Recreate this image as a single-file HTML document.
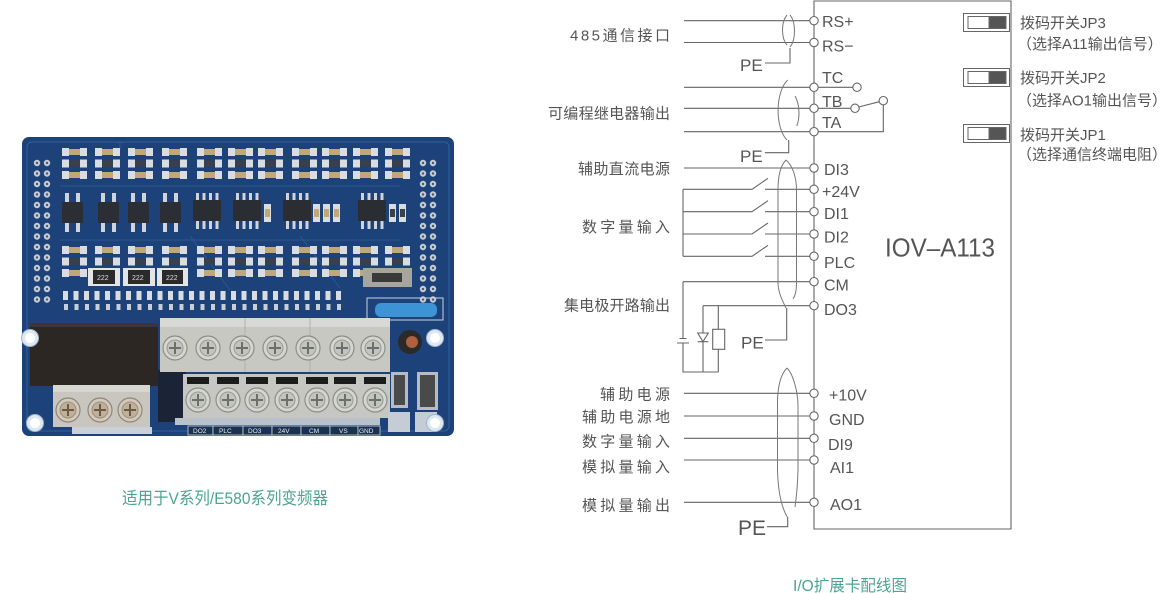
<!DOCTYPE html>
<html><head><meta charset="utf-8">
<style>
html,body{margin:0;padding:0;background:#fff;}
body{width:1162px;height:593px;overflow:hidden;}
svg{display:block;}
text{font-family:"Liberation Sans","Noto Sans CJK SC",sans-serif;}
</style></head>
<body>
<svg width="1162" height="593" viewBox="0 0 1162 593" xmlns="http://www.w3.org/2000/svg">
<defs>
  <pattern id="hdrL" x="32" y="158" width="10" height="10.5" patternUnits="userSpaceOnUse">
    <circle cx="5" cy="5" r="3.2" fill="#c6ccd4"/><circle cx="5" cy="5" r="1.2" fill="#4a5a70"/>
  </pattern>
  <pattern id="hdrR" x="418" y="158" width="10" height="10.5" patternUnits="userSpaceOnUse">
    <circle cx="5" cy="5" r="3.2" fill="#c6ccd4"/><circle cx="5" cy="5" r="1.2" fill="#4a5a70"/>
  </pattern>
  <pattern id="trs" x="62" y="290" width="10.5" height="24" patternUnits="userSpaceOnUse">
    <rect x="1" y="1" width="5" height="9" fill="#d8dde3"/>
    <rect x="2" y="14" width="4" height="6" fill="#c9cfd6"/>
  </pattern>
  <g id="cl">
    <rect x="0" y="0" width="7" height="8" fill="#d9dde2"/><rect x="7" y="1" width="11" height="6" fill="#c2a878"/><rect x="18" y="0" width="7" height="8" fill="#d9dde2"/>
    <rect x="0" y="11.5" width="7" height="8" fill="#d9dde2"/><rect x="7" y="12.5" width="11" height="6" fill="#3a3f48"/><rect x="18" y="11.5" width="7" height="8" fill="#d9dde2"/>
    <rect x="0" y="23" width="7" height="8" fill="#d9dde2"/><rect x="7" y="24" width="11" height="6" fill="#c2a878"/><rect x="18" y="23" width="7" height="8" fill="#d9dde2"/>
  </g>
  <g id="op">
    <rect x="0" y="9" width="21" height="21" fill="#2b2f35"/>
    <rect x="3" y="0" width="4" height="9" fill="#d0d4da"/><rect x="14" y="0" width="4" height="9" fill="#d0d4da"/>
    <rect x="3" y="30" width="4" height="9" fill="#d0d4da"/><rect x="14" y="30" width="4" height="9" fill="#d0d4da"/>
  </g>
  <g id="so">
    <rect x="0" y="7" width="28" height="21" fill="#2a2d32"/>
    <rect x="3" y="0" width="3" height="7" fill="#d0d4da"/><rect x="9.5" y="0" width="3" height="7" fill="#d0d4da"/><rect x="16" y="0" width="3" height="7" fill="#d0d4da"/><rect x="22.5" y="0" width="3" height="7" fill="#d0d4da"/>
    <rect x="3" y="28" width="3" height="8" fill="#d0d4da"/><rect x="9.5" y="28" width="3" height="8" fill="#d0d4da"/><rect x="16" y="28" width="3" height="8" fill="#d0d4da"/><rect x="22.5" y="28" width="3" height="8" fill="#d0d4da"/>
  </g>
  <g id="scr">
    <circle r="12" fill="#d6d6d1" stroke="#8d8d88" stroke-width="1.2"/>
    <circle r="8" fill="#c2c4c0" stroke="#9a9a95" stroke-width="1"/>
    <path d="M-6,0 H6 M0,-6 V6" stroke="#6e6e6a" stroke-width="2"/>
  </g>
  <g id="scrb">
    <circle r="12" fill="#d2c9b8" stroke="#8d877c" stroke-width="1.2"/>
    <circle r="8" fill="#c0b09a" stroke="#9a8f80" stroke-width="1"/>
    <path d="M-6,0 H6 M0,-6 V6" stroke="#6a5a48" stroke-width="2"/>
  </g>
  <g id="hole">
    <circle r="8.5" fill="#dfe8f0" stroke="#9fb6cc" stroke-width="1"/>
    <circle r="5" fill="#ffffff"/>
  </g>
</defs>

<!-- ================= PCB PHOTO ================= -->
<rect x="22" y="137" width="432" height="299" rx="7" fill="#1d4279"/>
<rect x="27" y="142" width="422" height="289" rx="5" fill="none" stroke="#30609e" stroke-width="1"/>
<path d="M60,186 H400 M60,240 H400 M190,236 L230,290 M300,236 L340,288 M120,142 V150" stroke="#2a5894" stroke-width="1" fill="none"/>
<rect x="32" y="158" width="20" height="147" fill="url(#hdrL)"/>
<rect x="418" y="158" width="20" height="147" fill="url(#hdrR)"/>

<use href="#cl" x="62" y="148"/><use href="#cl" x="95" y="148"/><use href="#cl" x="128" y="148"/><use href="#cl" x="162" y="148"/>
<use href="#cl" x="197" y="148"/><use href="#cl" x="228" y="148"/><use href="#cl" x="258" y="148"/><use href="#cl" x="292" y="148"/>
<use href="#cl" x="322" y="148"/><use href="#cl" x="353" y="148"/><use href="#cl" x="385" y="148"/>

<use href="#cl" x="62" y="246"/><use href="#cl" x="95" y="246"/><use href="#cl" x="128" y="246"/><use href="#cl" x="162" y="246"/>
<use href="#cl" x="197" y="246"/><use href="#cl" x="228" y="246"/><use href="#cl" x="258" y="246"/><use href="#cl" x="292" y="246"/>
<use href="#cl" x="322" y="246"/><use href="#cl" x="353" y="246"/><use href="#cl" x="385" y="246"/>

<use href="#op" x="62" y="193"/><use href="#op" x="98" y="193"/><use href="#op" x="128" y="193"/><use href="#op" x="160" y="193"/>
<use href="#so" x="193" y="193"/><use href="#so" x="233" y="193"/><use href="#so" x="283" y="193"/><use href="#so" x="358" y="193"/>
<rect x="264" y="204" width="7" height="18" fill="#d9dde2"/><rect x="265" y="209" width="5" height="8" fill="#c2a878"/>
<rect x="313" y="204" width="7" height="18" fill="#d9dde2"/><rect x="314" y="209" width="5" height="8" fill="#c2a878"/>
<rect x="323" y="204" width="7" height="18" fill="#d9dde2"/><rect x="324" y="209" width="5" height="8" fill="#c2a878"/>
<rect x="333" y="204" width="7" height="18" fill="#d9dde2"/><rect x="334" y="209" width="5" height="8" fill="#c2a878"/>
<rect x="389" y="204" width="7" height="18" fill="#d9dde2"/><rect x="390" y="209" width="5" height="8" fill="#3a3f48"/>
<rect x="399" y="204" width="7" height="18" fill="#d9dde2"/><rect x="400" y="209" width="5" height="8" fill="#3a3f48"/>

<!-- 222 resistors -->
<rect x="88" y="268" width="32" height="18" fill="#e2e4e6"/><rect x="93" y="270" width="22" height="14" fill="#2a2a2c"/>
<rect x="123" y="268" width="32" height="18" fill="#e2e4e6"/><rect x="128" y="270" width="22" height="14" fill="#2a2a2c"/>
<rect x="157" y="268" width="31" height="18" fill="#e2e4e6"/><rect x="162" y="270" width="21" height="14" fill="#2a2a2c"/>
<text x="97" y="280" font-size="7" fill="#ddd">222</text>
<text x="132" y="280" font-size="7" fill="#ddd">222</text>
<text x="166" y="280" font-size="7" fill="#ddd">222</text>
<!-- slide switch -->
<rect x="363" y="268" width="49" height="19" fill="#a8a49e"/><rect x="372" y="273" width="30" height="9" fill="#3a3a3a"/>
<!-- transistor row -->
<rect x="62" y="290" width="284" height="24" fill="url(#trs)"/>
<!-- blue part -->
<rect x="367" y="298" width="76" height="22" fill="none" stroke="#c8d2de" stroke-width="1"/>
<rect x="375" y="303" width="62" height="14" rx="6" fill="#3d93d4"/>

<!-- relay -->
<rect x="30" y="323" width="128" height="63" fill="#2d2724"/>
<rect x="30" y="323" width="128" height="4" fill="#3d3632"/>
<!-- dark area -->
<rect x="158" y="370" width="28" height="52" fill="#1a2436"/>
<!-- upper terminal block -->
<rect x="160" y="318" width="230" height="54" fill="#c8c8c3"/>
<rect x="160" y="318" width="230" height="9" fill="#d8d8d4"/>
<path d="M245,318 V372 M310,318 V372" stroke="#b0b0ab" stroke-width="1"/>
<use href="#scr" x="175" y="348"/><use href="#scr" x="208" y="348"/><use href="#scr" x="242" y="348"/><use href="#scr" x="275" y="348"/>
<use href="#scr" x="308" y="348"/><use href="#scr" x="342" y="348"/><use href="#scr" x="373" y="348"/>
<!-- lower terminal block -->
<rect x="183" y="374" width="207" height="44" fill="#c6c6c2"/>
<rect x="187" y="377" width="22" height="7" fill="#1c1c1c"/><rect x="217" y="377" width="22" height="7" fill="#1c1c1c"/>
<rect x="246" y="377" width="22" height="7" fill="#1c1c1c"/><rect x="276" y="377" width="22" height="7" fill="#1c1c1c"/>
<rect x="306" y="377" width="22" height="7" fill="#1c1c1c"/><rect x="334" y="377" width="22" height="7" fill="#1c1c1c"/>
<rect x="364" y="377" width="22" height="7" fill="#1c1c1c"/>
<use href="#scr" x="198" y="400"/><use href="#scr" x="228" y="400"/><use href="#scr" x="257" y="400"/><use href="#scr" x="287" y="400"/>
<use href="#scr" x="317" y="400"/><use href="#scr" x="345" y="400"/><use href="#scr" x="375" y="400"/>
<!-- left lower block -->
<rect x="53" y="385" width="97" height="42" fill="#c9c6c0"/>
<rect x="53" y="385" width="97" height="7" fill="#d8d6d0"/>
<use href="#scrb" x="68" y="410"/><use href="#scrb" x="100" y="410"/><use href="#scrb" x="130" y="410"/>
<rect x="72" y="427" width="80" height="7" fill="#c9d0d8"/>
<!-- labels strip -->
<rect x="175" y="418" width="205" height="7" fill="#b9c2cc"/>
<g fill="#1b3150" stroke="#cfd6de" stroke-width="0.8">
<rect x="188" y="426" width="25" height="9"/><rect x="213" y="426" width="30" height="9"/><rect x="243" y="426" width="29" height="9"/>
<rect x="272" y="426" width="29" height="9"/><rect x="301" y="426" width="29" height="9"/><rect x="330" y="426" width="28" height="9"/><rect x="358" y="426" width="22" height="9"/>
</g>
<g font-size="6.5" fill="#e8ecf0">
<text x="193" y="433">DO2</text><text x="219" y="433">PLC</text><text x="248" y="433">DO3</text><text x="278" y="433">24V</text>
<text x="309" y="433">CM</text><text x="339" y="433">VS</text><text x="359" y="433">GND</text>
</g>
<!-- capacitor and switches -->
<circle cx="410" cy="342" r="12" fill="#2a2a2a"/><circle cx="412" cy="342" r="6" fill="#b0603a"/>
<rect x="391" y="372" width="17" height="36" fill="#b8bcc2"/><rect x="394" y="375" width="11" height="30" fill="#4a4a4a"/>
<rect x="417" y="372" width="21" height="38" fill="#b8bcc2"/><rect x="420" y="375" width="15" height="32" fill="#4a4a4a"/>
<rect x="388" y="412" width="22" height="20" fill="#c4ccd6"/><rect x="415" y="412" width="22" height="20" fill="#c4ccd6"/>
<!-- mounting holes -->
<use href="#hole" x="30" y="338"/><use href="#hole" x="435" y="338"/>
<use href="#hole" x="35" y="423"/><use href="#hole" x="435" y="423"/>

<text x="122" y="504" font-size="17" fill="#4aa592" textLength="206" lengthAdjust="spacingAndGlyphs">适用于V系列/E580系列变频器</text>

<!-- ================= WIRING DIAGRAM ================= -->
<g stroke="#666" stroke-width="1.1" fill="none">
  <path d="M814,1 H1011 V529 H814 Z"/>
  <path d="M684,20.7 H814 M684,42.5 H814"/>
  <path d="M684,87.3 H853 M684,108.3 H851 M684,131.7 H883.3 V104.9 M858.5,107 L879.5,101.7"/>
  <path d="M684,168 H814"/>
  <path d="M683,189.3 V256.3"/>
  <path d="M683,189.3 H752 L768,178.3 M765,189.3 H814"/>
  <path d="M683,211.7 H752 L768,200.7 M765,211.7 H814"/>
  <path d="M683,234 H752 L768,223 M765,234 H814"/>
  <path d="M683,256.3 H752 L768,245.3 M765,256.3 H814"/>
  <path d="M683,281.7 H814 M683,281.7 V338.5 M679.5,338.5 H686.5 M677,343 H689 M683,343 V372 H718.3"/>
  <path d="M703,305.7 H814 M703,305.7 V333 M697.7,333 H708.3 L703,341.7 Z M697.7,341.7 H708.3 M703,341.7 V372"/>
  <path d="M718.3,305.7 V329.3 M718.3,349.3 V372"/>
  <rect x="712.7" y="329.3" width="12" height="20"/>
  <path d="M684,393.3 H814 M684,416 H814 M684,438.3 H814 M684,460 H814 M684,502.3 H814"/>
  <path d="M765,63 H790 V48"/>
  <path d="M765,152.7 H788.7 V140"/>
  <path d="M765,340 H786.7 V308"/>
  <path d="M767,526.7 H787.7 V516.7"/>
</g>
<g stroke="#777" stroke-width="1" fill="none">
  <path d="M787,15 C781,22 781,38 787,45 M790,15 C796,22 796,40 790,47"/>
  <path d="M787.7,80 C775,92 775,128 787,140 M795,96 C800,105 800,118 796.7,126"/>
  <path d="M786,160 C780,166 778,178 778,190 V282 C778,292 782,300 786,308 M786,160 C793,166 796.5,178 796.5,190 V284 C796.5,292 795,296 793,299"/>
  <path d="M787,368 C781,374 778,386 777.5,400 V470 C778,490 781,506 787,516.7 M787,368 C793,374 797.5,390 798,405 V470 C797.5,490 796,500 795,507"/>
</g>
<g stroke="#666" stroke-width="1.1" fill="#fff">
  <circle cx="814" cy="20.7" r="4.2"/><circle cx="814" cy="42.5" r="4.2"/>
  <circle cx="814" cy="87.3" r="4.2"/><circle cx="814" cy="108.3" r="4.2"/><circle cx="814" cy="131.7" r="4.2"/>
  <circle cx="857" cy="87.3" r="4.2"/><circle cx="855" cy="108.3" r="4.2"/><circle cx="883.3" cy="100.7" r="4.2"/>
  <circle cx="814" cy="168" r="4.2"/><circle cx="814" cy="189.3" r="4.2"/><circle cx="814" cy="211.7" r="4.2"/>
  <circle cx="814" cy="234" r="4.2"/><circle cx="814" cy="256.3" r="4.2"/><circle cx="814" cy="281.7" r="4.2"/>
  <circle cx="814" cy="305.7" r="4.2"/>
  <circle cx="814" cy="393.3" r="4.2"/><circle cx="814" cy="416" r="4.2"/><circle cx="814" cy="438.3" r="4.2"/>
  <circle cx="814" cy="460" r="4.2"/><circle cx="814" cy="502.3" r="4.2"/>
</g>
<g stroke="#666" stroke-width="1">
  <rect x="963.5" y="13.5" width="46" height="18" fill="#fff"/><rect x="968" y="16.5" width="38" height="12" fill="#fff"/><rect x="989" y="16.5" width="17" height="12" fill="#555"/>
  <rect x="963.5" y="68.5" width="46" height="18" fill="#fff"/><rect x="968" y="71.5" width="38" height="12" fill="#fff"/><rect x="989" y="71.5" width="17" height="12" fill="#555"/>
  <rect x="963.5" y="124.5" width="46" height="18" fill="#fff"/><rect x="968" y="127.5" width="38" height="12" fill="#fff"/><rect x="989" y="127.5" width="17" height="12" fill="#555"/>
</g>

<g font-size="15" fill="#555">
  <text x="570" y="40.5" textLength="100" lengthAdjust="spacing">485通信接口</text>
  <text x="548" y="118.5" textLength="122" lengthAdjust="spacing">可编程继电器输出</text>
  <text x="578" y="174" textLength="92" lengthAdjust="spacing">辅助直流电源</text>
  <text x="582" y="232" textLength="88" lengthAdjust="spacing">数字量输入</text>
  <text x="564" y="310.5" textLength="106" lengthAdjust="spacing">集电极开路输出</text>
  <text x="600" y="399.5" textLength="70" lengthAdjust="spacing">辅助电源</text>
  <text x="582" y="422" textLength="88" lengthAdjust="spacing">辅助电源地</text>
  <text x="582" y="446.5" textLength="88" lengthAdjust="spacing">数字量输入</text>
  <text x="582" y="472" textLength="88" lengthAdjust="spacing">模拟量输入</text>
  <text x="582" y="510.5" textLength="88" lengthAdjust="spacing">模拟量输出</text>
</g>
<g fill="#555">
  <text x="740" y="71" font-size="17">PE</text>
  <text x="740" y="162" font-size="17">PE</text>
  <text x="741" y="348.5" font-size="17">PE</text>
  <text x="738" y="535" font-size="21">PE</text>
</g>
<g font-size="16" fill="#555">
  <text x="822" y="27">RS+</text>
  <text x="822" y="51.5">RS−</text>
  <text x="822" y="83">TC</text>
  <text x="822" y="107">TB</text>
  <text x="822" y="128">TA</text>
  <text x="824" y="175">DI3</text>
  <text x="822" y="197">+24V</text>
  <text x="824" y="219">DI1</text>
  <text x="824" y="242.5">DI2</text>
  <text x="824" y="268">PLC</text>
  <text x="824" y="290.5">CM</text>
  <text x="824" y="315">DO3</text>
  <text x="829" y="400.5">+10V</text>
  <text x="829" y="425">GND</text>
  <text x="828" y="450">DI9</text>
  <text x="830" y="473">AI1</text>
  <text x="830" y="510">AO1</text>
</g>
<text x="885" y="256.7" font-size="26" fill="#555" textLength="110" lengthAdjust="spacingAndGlyphs">IOV–A113</text>
<g font-size="15" fill="#555">
  <text x="1020" y="28">拨码开关JP3</text>
  <text x="1017" y="49">（选择A11输出信号）</text>
  <text x="1020" y="83">拨码开关JP2</text>
  <text x="1017" y="105.5">（选择AO1输出信号）</text>
  <text x="1020" y="140">拨码开关JP1</text>
  <text x="1017" y="159.5">（选择通信终端电阻）</text>
</g>
<text x="793" y="591" font-size="16" fill="#4aa592" textLength="114" lengthAdjust="spacingAndGlyphs">I/O扩展卡配线图</text>
</svg>
</body></html>
